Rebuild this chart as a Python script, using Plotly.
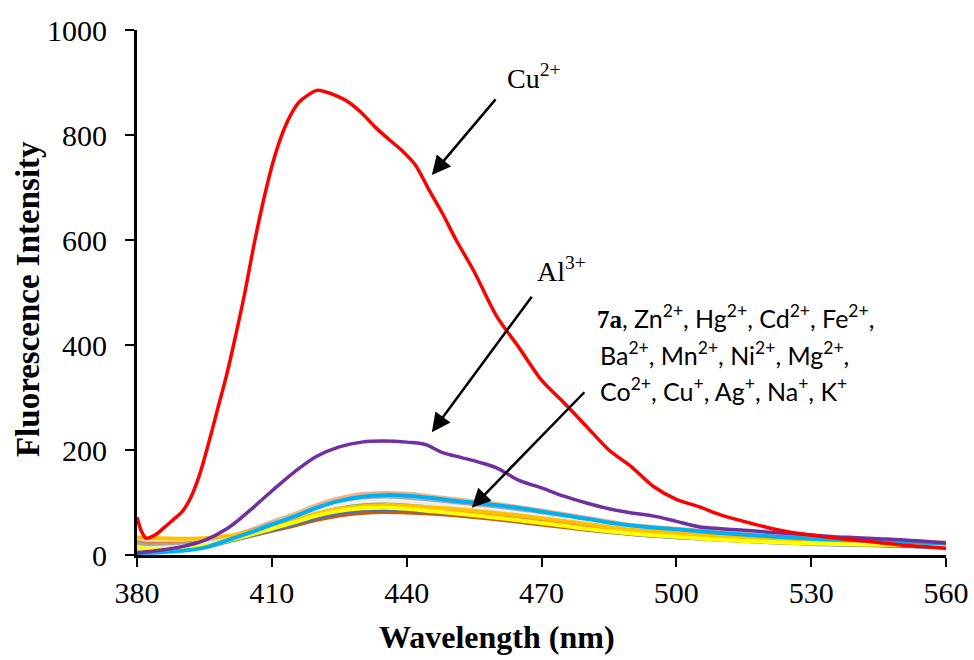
import plotly.graph_objects as go

# ---------------- data ----------------
red_x = [380,381,382,384,386,388,390,392,394,396,398,400,402,404,406,408,410,412,414,416,
         418,420,422,424,427,430,433,436,439,442,445,448,451,455,460,465,470,475,480,485,
         490,495,500,505,510,515,520,525,530,535,540,545,550,555,560]
cu2_y = [72,45,32,38,52,67,82,110,155,215,280,345,420,500,590,670,740,795,835,862,
         876,885,882,876,863,842,815,792,770,742,695,650,600,540,455,395,333,290,245,200,
         168,130,106,92,76,64,53,44,38,33,28,24,19,16,13]

pur_x = [380,385,390,395,400,405,410,415,420,425,430,435,440,444,448,452,456,460,465,470,
         475,480,485,490,495,500,505,510,515,520,525,530,535,540,545,550,555,560]
al3_y = [4,9,16,28,50,84,122,158,188,206,215,217,215,211,195,186,177,166,142,128,
         112,99,88,80,74,64,54,50,47,44,41,38,35,33,31,29,26,23]

cl_x = [380,382,385,390,395,400,405,410,415,420,425,430,435,440,445,450,460,470,480,490,
        500,510,520,530,540,550,560]

brown_y  = [20,17,16,17,20,27,36,46,56,67,75,80,82,81,79,76,68,58,48,40,34,29,25,22,20,18,16]
olive_y  = [24,20,20,21,24,31,40,51,62,74,83,88,90,89,86,83,75,65,54,44,38,32,28,24,21,19,16]
dgray_y  = [18,15,16,18,22,31,43,56,69,84,94,100,102,101,97,93,84,73,61,50,43,36,31,27,24,22,19]
green_y  = [20,17,17,19,23,31,42,55,67,81,91,97,99,98,95,91,82,71,59,48,42,35,30,26,23,21,18]
steel_y  = [10,8,8,10,15,25,36,48,60,73,83,89,91,90,86,82,73,62,50,40,34,29,25,21,19,17,14]
blue_y   = [14,11,11,13,18,27,37,48,59,71,80,85,87,86,83,80,72,62,51,42,36,31,26,23,20,18,15]
orange_y = [25,22,22,22,25,32,41,52,63,75,84,89,91,90,87,84,76,66,55,45,39,33,28,25,22,20,17]
peach_y  = [8,7,9,12,19,33,47,63,78,95,108,116,118,117,112,107,97,85,71,57,50,43,37,32,29,27,24]
lsteel_y = [12,10,11,14,20,32,45,60,74,90,101,108,110,109,105,100,91,80,67,54,47,40,34,29,26,24,21]
gray_y   = [22,18,19,20,24,33,45,59,72,87,98,104,106,105,101,97,88,77,64,52,45,38,32,28,25,23,20]
white_y  = [16,13,14,16,21,30,42,56,70,85,96,102,104,102,98,94,85,74,62,51,44,37,32,27,24,22,19]
gold_y   = [34,32,32,31,32,36,44,55,66,79,88,93,95,94,91,88,80,70,59,48,42,36,31,27,24,22,19]
yellow_y = [15,12,12,13,17,27,38,50,62,75,84,89,90,88,84,80,71,61,50,41,35,29,25,22,20,19,18]
cyan_y   = [4,4,5,8,14,28,42,58,73,90,103,111,114,113,109,104,95,83,69,56,49,42,36,31,28,25,22]

cluster = [
    ("Mg2+", brown_y,  "#C55A11"),
    ("Co2+", olive_y,  "#997300"),
    ("Ni2+", dgray_y,  "#7F7F7F"),
    ("Mn2+", green_y,  "#70AD47"),
    ("K+",   steel_y,  "#5B9BD5"),
    ("Ba2+", blue_y,   "#4472C4"),
    ("Fe2+", orange_y, "#ED7D31"),
    ("Na+",  peach_y,  "#F4B183"),
    ("Cd2+", lsteel_y, "#B4C7E7"),
    ("Hg2+", gray_y,   "#A5A5A5"),
    ("Ag+",  white_y,  "#EDEDED"),
    ("Zn2+", gold_y,   "#FFC000"),
    ("Cu+",  yellow_y, "#FFFF00"),
    ("7a",   cyan_y,   "#00B0F0"),
]

x_ticks = [380, 410, 440, 470, 500, 530, 560]
y_ticks = [0, 200, 400, 600, 800, 1000]

# ---------------- figure ----------------
fig = go.Figure()
for name, ys, col in cluster:
    fig.add_trace(go.Scatter(x=cl_x, y=ys, mode="lines", name=name,
                             line=dict(color=col, width=4, shape="spline")))
fig.add_trace(go.Scatter(x=pur_x, y=al3_y, mode="lines", name="Al3+",
                         line=dict(color="#7030A0", width=3.5, shape="spline")))
fig.add_trace(go.Scatter(x=red_x, y=cu2_y, mode="lines", name="Cu2+",
                         line=dict(color="#FF0000", width=3.5, shape="spline", smoothing=0.8)))

serif = "Liberation Serif, Times New Roman, serif"
sans = "Lato, Noto Sans, sans-serif"

fig.update_layout(
    width=974, height=660, autosize=False,
    margin=dict(l=137, r=28, t=30, b=105),
    paper_bgcolor="white", plot_bgcolor="white",
    showlegend=False,
    font=dict(family=serif, color="black"),
)
fig.update_xaxes(range=[380, 560], tickvals=x_ticks, ticks="outside", ticklen=9,
                 tickwidth=2, tickcolor="black", showline=True, linewidth=3,
                 linecolor="black", showgrid=False, zeroline=False, automargin=False,
                 ticklabeloverflow="allow",
                 tickfont=dict(family=serif, size=30, color="black"))
fig.update_yaxes(range=[0, 1000], tickvals=y_ticks, ticks="outside", ticklen=9,
                 tickwidth=2, tickcolor="black", showline=True, linewidth=3,
                 linecolor="black", showgrid=False, zeroline=False, automargin=False,
                 ticklabeloverflow="allow", ticklabelstandoff=12,
                 tickfont=dict(family=serif, size=30, color="black"))

ann = []
# axis titles
ann.append(dict(text="<b>Wavelength (nm)</b>", xref="paper", yref="paper",
                x=0.445, y=-0.156, xanchor="center", yanchor="middle",
                showarrow=False, font=dict(family=serif, size=32, color="black")))
ann.append(dict(text="<b>Fluorescence Intensity</b>", xref="paper", yref="paper",
                x=-0.1347, y=0.4876, xanchor="center", yanchor="middle", textangle=-90,
                showarrow=False, font=dict(family=serif, size=33, color="black")))
# labels
ann.append(dict(text="Cu<sup>2+</sup>", xref="x", yref="y", x=461.9, y=912,
                xanchor="left", yanchor="middle", showarrow=False,
                font=dict(family=serif, size=28, color="black")))
ann.append(dict(text="Al<sup>3+</sup>", xref="x", yref="y", x=468.6, y=543,
                xanchor="left", yanchor="middle", showarrow=False,
                font=dict(family=serif, size=28, color="black")))
lines = [
    ("<span style=\"font-family:'Liberation Serif'\"><b>7a</b></span>, Zn<sup>2+</sup>, Hg<sup>2+</sup>, Cd<sup>2+</sup>, Fe<sup>2+</sup>,", 481.9, 455),
    ("Ba<sup>2+</sup>, Mn<sup>2+</sup>, Ni<sup>2+</sup>, Mg<sup>2+</sup>,", 482.6, 383),
    ("Co<sup>2+</sup>, Cu<sup>+</sup>, Ag<sup>+</sup>, Na<sup>+</sup>, K<sup>+</sup>", 482.6, 316),
]
for t, xx, yy in lines:
    ann.append(dict(text=t, xref="x", yref="y", x=xx, y=yy, xanchor="left",
                    yanchor="middle", showarrow=False,
                    font=dict(family=sans, size=25, color="black")))
# arrows
for hx, hy, axp, ayp in [(445.6, 724, 65, -77), (445.6, 234, 101, -137), (454.5, 90, 114, -117)]:
    ann.append(dict(text="", xref="x", yref="y", x=hx, y=hy, ax=axp, ay=ayp,
                    showarrow=True, arrowhead=2, arrowsize=1.5, arrowwidth=2.5,
                    arrowcolor="black", standoff=0))
fig.update_layout(annotations=ann)

fig.write_html(
    "out.html",
    config={"displayModeBar": False, "responsive": False},
    post_script=("document.body.style.margin='0';document.body.style.overflow='hidden';"
                 "var gd=document.getElementById('{plot_id}');"
                 "Plotly.relayout(gd,{width:974,height:660});"),
)
